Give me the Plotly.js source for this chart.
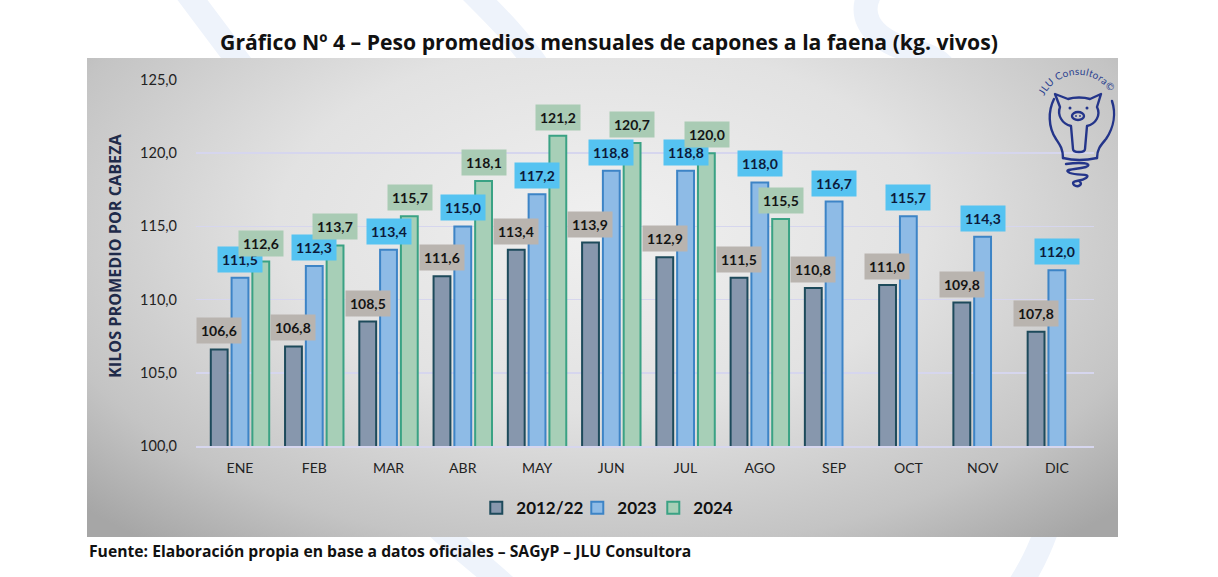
<!DOCTYPE html>
<html>
<head>
<meta charset="utf-8">
<script src="https://cdn.plot.ly/plotly-3.0.1.min.js"></script>
<style>
  html, body { margin: 0; padding: 0; background: #ffffff; }
  #wrap { position: relative; width: 1218px; height: 577px; overflow: hidden; }
  #marca { position: absolute; left: 0; top: 0; }
  #panel {
    position: absolute; left: 87px; top: 58px; width: 1031px; height: 479px;
    background: radial-gradient(ellipse 70% 85% at 50% 35%, #f0f0f0 0%, #e2e2e2 45%, #c4c4c4 80%, #a6a6a6 100%);
  }
  #chart { position: absolute; left: 0; top: 0; width: 1218px; height: 577px; }
</style>
</head>
<body>
<div id="wrap">
  <!-- marca de agua tenue detrás del gráfico -->
  <svg id="marca" width="1218" height="577" viewBox="0 0 1218 577">
    <g fill="none" stroke="#eef3fb" stroke-width="24" stroke-linecap="round">
      <path d="M185,-10 L245,70"/>
      <path d="M470,-10 C500,20 520,40 540,70"/>
      <path d="M880,-20 C850,10 870,40 910,50 C950,60 960,80 930,100"/>
      <path d="M430,520 C460,550 490,570 520,600"/>
      <path d="M1050,520 C1040,550 1030,570 1010,600"/>
    </g>
  </svg>
  <div id="panel"></div>
  <div id="chart"></div>
</div>
<script>
"use strict";

// --- Datos ---
const meses = ['ENE', 'FEB', 'MAR', 'ABR', 'MAY', 'JUN', 'JUL', 'AGO', 'SEP', 'OCT', 'NOV', 'DIC'];
const serieNombres = ['2012/22', '2023', '2024'];
const peso2012_22 = [106.6, 106.8, 108.5, 111.6, 113.4, 113.9, 112.9, 111.5, 110.8, 111.0, 109.8, 107.8];
const peso2023 = [111.5, 112.3, 113.4, 115.0, 117.2, 118.8, 118.8, 118.0, 116.7, 115.7, 114.3, 112.0];
const peso2024 = [112.6, 113.7, 115.7, 118.1, 121.2, 120.7, 120.0, 115.5, null, null, null, null];
const yTicks = [100, 105, 110, 115, 120, 125];

// estilos por serie
const series = [
    { y: peso2012_22, fill: '#8797ad', line: '#1d4a5b', label: '#b9b4af', txt: '#141414', dx: -21, lw: 56 },
    { y: peso2023,    fill: '#8ebbe6', line: '#3d84c6', label: '#55c3f1', txt: '#0c1a3a', dx: 0,   lw: 31 },
    { y: peso2024,    fill: '#a7cfb7', line: '#3aa284', label: '#a9cbb4', txt: '#141414', dx: 21,  lw: 40 }
];

const FONT = 'Lato, "Open Sans", sans-serif';
const FONT2 = '"Open Sans", Lato, sans-serif';
const fmt = v => v.toFixed(1).replace('.', ',');

const traces = series.map((s, i) => ({
    type: 'bar',
    name: serieNombres[i],
    x: meses,
    y: s.y,
    legendwidth: s.lw,
    marker: { color: s.fill, line: { color: s.line, width: 2 } },
    hoverinfo: 'x+y'
}));

// etiquetas de valor (recuadros de color sobre cada barra)
const etiquetas = [];
series.forEach(s => {
    s.y.forEach((v, j) => {
        if (v == null) return;
        etiquetas.push({
            x: meses[j], y: v, xref: 'x', yref: 'y',
            text: '<b>' + fmt(v) + '</b>',
            showarrow: false, xshift: s.dx, yshift: 5, yanchor: 'bottom',
            bgcolor: s.label, borderpad: 4,
            font: { family: FONT, size: 14, color: s.txt }
        });
    });
});

etiquetas.push({
    xref: 'paper', yref: 'paper', x: -0.091, xanchor: 'center', y: 0.52,
    text: '<b>KILOS PROMEDIO POR CABEZA</b>', textangle: -90, showarrow: false,
    font: { family: FONT2, size: 16.2, color: '#1f2b4a' }
});
etiquetas.push({
    xref: 'paper', yref: 'paper', x: -0.121, y: -0.287, xanchor: 'left', yanchor: 'middle',
    text: '<b>Fuente: Elaboración propia en base a datos oficiales – SAGyP – JLU Consultora</b>',
    showarrow: false, font: { family: FONT2, size: 15.7, color: '#111111' }
});

// logo JLU (bombilla con cerdito), coordenadas locales de un recuadro de 90x125
const logoSvg = `<svg xmlns="http://www.w3.org/2000/svg" width="90" height="125" viewBox="0 0 90 125">
<defs><path id="arc" d="M14,31 A38,38 0 0 1 83,33"/></defs>
<text font-family="Lato, sans-serif" font-size="10" fill="#2a3f8f" letter-spacing="0.3"><textPath href="#arc">JLU Consultora©</textPath></text>
<g fill="none" stroke="#24358a" stroke-width="2.4" stroke-linecap="round" stroke-linejoin="round">
<path d="M24,34 C18,46 18,62 26,74 C30,80 33,84 33,93"/>
<path d="M82,36 C86,48 84,62 76,74 C71,80 67,84 67,93"/>
<path d="M30,42 L25,29 L38,34 C44,32 54,32 60,34 L71,29 L67,42 C71,50 66,59 57,61 L55,84 C55,88 43,88 43,84 L41,61 C32,59 27,50 30,42 Z"/>
<ellipse cx="48" cy="51" rx="6" ry="4"/>
<path d="M33,93 C45,96 58,95 67,93"/>
<path d="M36,99 C50,97 64,98 56,102 C44,105 32,104 40,108 C48,111 62,108 56,113 C50,117 40,115 44,120 C48,123 54,119 49,116"/>
</g>
<circle cx="40" cy="43" r="1.5" fill="#24358a"/><circle cx="57" cy="43" r="1.5" fill="#24358a"/>
<circle cx="46" cy="51" r="0.9" fill="#24358a"/><circle cx="50" cy="51" r="0.9" fill="#24358a"/>
</svg>`;

const layout = {
    width: 1218, height: 577,
    paper_bgcolor: 'rgba(0,0,0,0)',
    plot_bgcolor: 'rgba(0,0,0,0)',
    margin: { l: 196, r: 124, t: 80, b: 131 },
    separators: ',.',
    font: { family: FONT, color: '#222222' },
    title: {
        text: '<b>Gráfico Nº 4 – Peso promedios mensuales de capones a la faena (kg. vivos)</b>',
        font: { family: FONT2, size: 21.2, color: '#111111' },
        x: 0.5, xanchor: 'center', y: 1 - 43 / 577, yanchor: 'middle'
    },
    barmode: 'group',
    bargap: 0.16,
    bargroupgap: 0.19,
    xaxis: {
        type: 'category',
        tickfont: { family: FONT, size: 14, color: '#222222' },
        showgrid: false, zeroline: false,
        showline: true, linecolor: '#d6d6ee', linewidth: 2,
        ticks: '', ticklabelstandoff: 8
    },
    yaxis: {
        range: [100, 125],
        tickvals: yTicks,
        tickformat: '.1f',
        tickfont: { family: FONT, size: 14.5, color: '#222222' },
        gridcolor: '#d6d6ee', gridwidth: 1.5,
        zeroline: false, showline: false,
        ticks: '', ticklabelstandoff: 18
    },
    showlegend: true,
    legend: {
        orientation: 'h', x: 0.458, xanchor: 'center', y: -0.17, yanchor: 'middle',
        bgcolor: 'rgba(0,0,0,0)',
        font: { family: FONT, size: 17, color: '#111111', weight: 'bold' },
        traceorder: 'normal', itemwidth: 30
    },
    annotations: etiquetas,
    images: [{
        source: 'data:image/svg+xml;charset=utf-8,' + encodeURIComponent(logoSvg),
        xref: 'paper', yref: 'paper',
        x: (1030 - 196) / 898, y: 1 + (80 - 65) / 366, sizex: 90 / 898, sizey: 125 / 366,
        xanchor: 'left', yanchor: 'top', sizing: 'stretch', layer: 'above'
    }]
};

Plotly.newPlot('chart', traces, layout, { displayModeBar: false, staticPlot: true });
</script>
</body>
</html>
